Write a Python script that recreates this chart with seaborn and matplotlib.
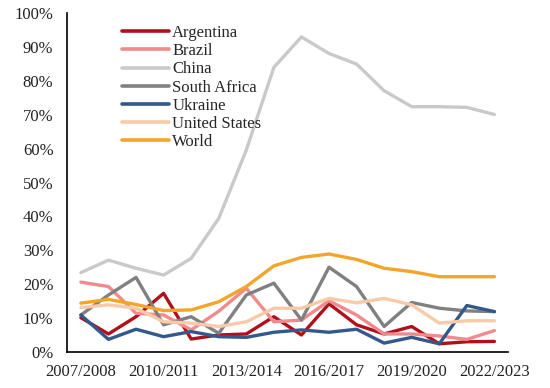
import pandas as pd
import matplotlib.pyplot as plt
import seaborn as sns

seasons = ['2007/2008', '2008/2009', '2009/2010', '2010/2011', '2011/2012', '2012/2013',
           '2013/2014', '2014/2015', '2015/2016', '2016/2017', '2017/2018', '2018/2019',
           '2019/2020', '2020/2021', '2021/2022', '2022/2023']

argentina = [10.1, 5.3, 10.4, 17.3, 3.8, 5.0, 5.3, 10.4, 5.0, 14.2, 8.0, 5.3, 7.5, 2.4, 3.0, 3.1]
brazil = [20.6, 19.3, 11.4, 10.9, 6.5, 12.0, 18.8, 8.9, 9.4, 15.1, 10.9, 5.3, 5.3, 4.7, 3.7, 6.3]
china = [23.4, 27.1, 24.7, 22.7, 27.6, 39.4, 59.6, 84.0, 93.0, 88.1, 85.0, 77.1, 72.4, 72.4, 72.2, 70.1]
south_africa = [10.9, 16.8, 22.0, 8.0, 10.4, 5.5, 16.8, 20.3, 9.4, 25.0, 19.3, 7.5, 14.6, 12.9, 12.1, 11.9]
ukraine = [10.9, 3.7, 6.7, 4.5, 6.0, 4.5, 4.3, 5.8, 6.5, 5.8, 6.7, 2.6, 4.3, 2.4, 13.7, 11.9]
united_states = [13.1, 13.9, 12.9, 8.9, 8.5, 7.5, 8.9, 12.9, 12.9, 15.8, 14.5, 15.8, 13.9, 8.5, 9.2, 9.2]
world = [14.4, 15.5, 14.0, 12.2, 12.4, 14.8, 19.3, 25.4, 27.9, 28.9, 27.3, 24.7, 23.7, 22.2, 22.2, 22.2]

series = {
    'Argentina': argentina,
    'Brazil': brazil,
    'China': china,
    'South Africa': south_africa,
    'Ukraine': ukraine,
    'United States': united_states,
    'World': world,
}
colors = {
    'Argentina': '#B0101A',
    'Brazil': '#F08A8C',
    'China': '#C9C9C9',
    'South Africa': '#808080',
    'Ukraine': '#33598A',
    'United States': '#F8CAA8',
    'World': '#F2A52A',
}

rows = []
for name, vals in series.items():
    for i, v in enumerate(vals):
        rows.append({'x': i + 0.5, 'value': v, 'country': name})
df = pd.DataFrame(rows)

sns.set_style('white')
plt.rcParams['font.family'] = ['Liberation Serif', 'DejaVu Serif']

fig = plt.figure(figsize=(5.5, 3.88), dpi=100)
ax = fig.add_axes([0.122, 0.093, 0.802, 0.873])

sns.lineplot(data=df, x='x', y='value', hue='country', palette=colors,
             linewidth=2.4, ax=ax)

ax.set_xlim(0, len(seasons))
ax.set_ylim(0, 100)
ax.set_xlabel('')
ax.set_ylabel('')

ax.set_yticks(range(0, 101, 10))
ax.set_yticklabels([f'{v}%' for v in range(0, 101, 10)], fontsize=12, color='#222222')

ax.set_xticks(range(0, len(seasons) + 1))
ax.set_xticklabels([])
ax.set_xticks([i + 0.5 for i in range(0, len(seasons), 3)], minor=True)
ax.set_xticklabels(seasons[::3], minor=True, fontsize=12, color='#222222')
ax.tick_params(axis='both', which='major', length=3.8, width=1, color='black', direction='out')
ax.tick_params(axis='x', which='minor', length=0, pad=9)
ax.tick_params(axis='y', pad=6)

for s in ['top', 'right']:
    ax.spines[s].set_visible(False)
for s in ['left', 'bottom']:
    ax.spines[s].set_color('black')
    ax.spines[s].set_linewidth(1.2)

leg = ax.legend(loc='upper left', bbox_to_anchor=(0.125, 0.965), frameon=False,
                fontsize=12, handlelength=2.8, handletextpad=0.2,
                labelspacing=0.13, borderpad=0, borderaxespad=0)
for line in leg.get_lines():
    line.set_linewidth(2.6)

fig.savefig('out.png', dpi=100)
